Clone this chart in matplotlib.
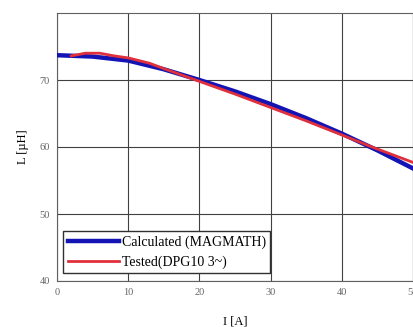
import matplotlib
matplotlib.use("Agg")
import matplotlib.pyplot as plt

calc_I = [0, 5, 10, 15, 20, 25, 30, 35, 40, 45, 50]
calc_L = [73.7, 73.5, 72.9, 71.6, 70.0, 68.3, 66.4, 64.3, 62.0, 59.5, 56.8]
test_I = [2, 4, 6, 8, 10, 13, 15, 20, 25, 30, 35, 40, 44, 50]
test_L = [73.6, 74.0, 74.0, 73.6, 73.3, 72.5, 71.7, 69.8, 67.9, 65.9, 63.9, 61.8, 60.1, 57.7]
xticks = [0, 10, 20, 30, 40, 50]
yticks = [40, 50, 60, 70]

plt.rcParams['font.family'] = ['Liberation Serif', 'DejaVu Serif']
fig = plt.figure(figsize=(4.14, 3.27), dpi=100)
ax = fig.add_axes([57/414, 1 - 281/327, (413-57)/414, (281-13)/327])
ax.plot(calc_I, calc_L, color='#1414b4', lw=3.2, label='Calculated (MAGMATH)', zorder=3)
ax.plot(test_I, test_L, color='#e0303c', lw=2.0, label='Tested(DPG10 3~)', zorder=4)
ax.set_xlim(0, 50)
ax.set_ylim(40, 80)
ax.set_xticks(xticks)
ax.set_yticks(yticks)
ax.grid(True, color='#404040', lw=0.8)
ax.tick_params(length=0, labelsize=7.5, labelcolor='#666666', pad=5)
for s in ax.spines.values():
    s.set_color('#606060')
    s.set_linewidth(0.8)
ax.set_xlabel('I [A]', fontsize=9, labelpad=13)
ax.set_ylabel('L [µH]', fontsize=9, labelpad=8)
leg = ax.legend(loc='lower left', bbox_to_anchor=(0.018, 0.03), fontsize=10, handlelength=3.7,
                fancybox=False, edgecolor='#303030', framealpha=1, borderpad=0.3,
                labelspacing=0.45, handletextpad=0.2, borderaxespad=0)
leg.get_frame().set_linewidth(1.0)
fig.savefig('out.png', dpi=100)
